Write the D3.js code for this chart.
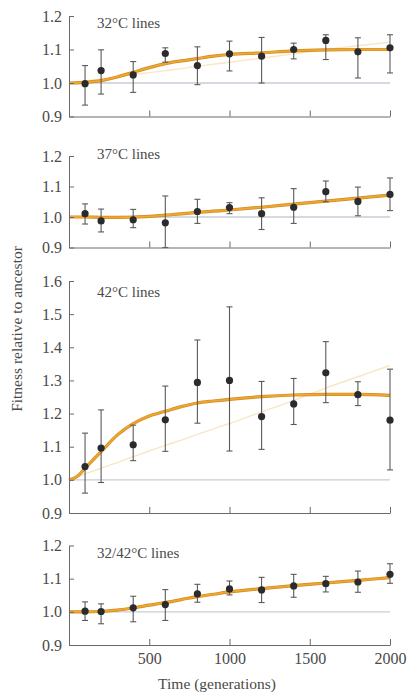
<!DOCTYPE html>
<html>
<head>
<meta charset="utf-8">
<script src="https://cdn.jsdelivr.net/npm/d3@7"></script>
<style>
  body { margin: 0; background: #fff; }
  svg text { font-family: "Liberation Serif", "DejaVu Serif", serif; fill: #4a4a4a; }
  .axis path, .axis line { stroke: #6a6a6a; stroke-width: 1; }
</style>
</head>
<body>
<div id="chart"></div>
<script>
// generations where fitness was measured
const gens = [100, 200, 400, 600, 800, 1000, 1200, 1400, 1600, 1800, 2000];

// 32°C lines
const mean32 = [0.998, 1.037, 1.024, 1.088, 1.052, 1.087, 1.080, 1.100, 1.127, 1.093, 1.105];
const lo32   = [0.934, 0.967, 0.972, 1.062, 0.995, 1.036, 1.000, 1.072, 1.070, 1.015, 1.030];
const hi32   = [1.052, 1.099, 1.064, 1.105, 1.108, 1.125, 1.136, 1.119, 1.144, 1.135, 1.144];

// 37°C lines
const mean37 = [1.011, 0.987, 0.991, 0.981, 1.018, 1.031, 1.011, 1.032, 1.083, 1.051, 1.074];
const lo37   = [0.977, 0.951, 0.965, 0.900, 0.979, 1.011, 0.959, 0.979, 1.050, 1.004, 1.021];
const hi37   = [1.043, 1.026, 1.025, 1.069, 1.058, 1.047, 1.063, 1.093, 1.118, 1.098, 1.128];

// 42°C lines
const mean42 = [1.040, 1.096, 1.106, 1.181, 1.294, 1.300, 1.191, 1.229, 1.323, 1.257, 1.180];
const lo42   = [0.960, 0.992, 1.058, 1.086, 1.171, 1.087, 1.092, 1.167, 1.233, 1.224, 1.030];
const hi42   = [1.141, 1.211, 1.165, 1.283, 1.422, 1.522, 1.297, 1.306, 1.417, 1.296, 1.334];

// 32/42°C lines
const meanAlt = [1.002, 1.001, 1.012, 1.022, 1.054, 1.069, 1.066, 1.078, 1.085, 1.090, 1.113];
const loAlt   = [0.974, 0.964, 0.970, 0.974, 1.029, 1.051, 1.028, 1.044, 1.060, 1.059, 1.086];
const hiAlt   = [1.030, 1.024, 1.047, 1.067, 1.083, 1.093, 1.104, 1.113, 1.107, 1.123, 1.145];

// fitted curves (hyperbolic = fit, faint = linear-ish alternative)
const fitGens = [0, 50, 100, 200, 300, 400, 500, 600, 700, 800, 900, 1000, 1200, 1400, 1600, 1800, 2000];
const fit32   = [1.0, 1.0005, 1.002, 1.007, 1.018, 1.032, 1.046, 1.058, 1.066, 1.073, 1.080, 1.085, 1.090, 1.096, 1.099, 1.100, 1.100];
const faint32 = [1.0, 1.003, 1.006, 1.012, 1.018, 1.025, 1.031, 1.037, 1.043, 1.050, 1.056, 1.062, 1.074, 1.087, 1.100, 1.111, 1.122];
const fit37   = [1.0, 1.0, 1.0, 0.999, 0.999, 1.0, 1.002, 1.006, 1.010, 1.015, 1.019, 1.023, 1.032, 1.042, 1.052, 1.062, 1.072];
const faint37 = [1.0, 1.0, 1.0, 1.0, 1.001, 1.003, 1.005, 1.008, 1.012, 1.016, 1.020, 1.025, 1.034, 1.044, 1.054, 1.064, 1.075];
const fit42   = [1.0, 1.010, 1.035, 1.085, 1.135, 1.170, 1.193, 1.207, 1.221, 1.232, 1.238, 1.243, 1.251, 1.256, 1.258, 1.258, 1.255];
const faint42 = [1.0, 1.008, 1.018, 1.035, 1.052, 1.070, 1.087, 1.104, 1.120, 1.137, 1.154, 1.170, 1.205, 1.240, 1.277, 1.311, 1.345];
const fitAlt  = [1.0, 1.0, 1.0, 1.001, 1.005, 1.012, 1.020, 1.028, 1.037, 1.046, 1.053, 1.060, 1.070, 1.079, 1.087, 1.095, 1.103];
const faintAlt= [1.0, 1.0, 1.0, 1.002, 1.006, 1.013, 1.021, 1.029, 1.038, 1.046, 1.053, 1.060, 1.071, 1.080, 1.088, 1.096, 1.105];

const titles = ['32°C lines', '37°C lines', '42°C lines', '32/42°C lines'];
const xTicks = [500, 1000, 1500, 2000];
const yTicksSmall = [0.9, 1.0, 1.1, 1.2];
const yTicksBig = [0.9, 1.0, 1.1, 1.2, 1.3, 1.4, 1.5, 1.6];

const panels = [
  {title: titles[0], mean: mean32, lo: lo32, hi: hi32, fit: fit32, faint: faint32, ymax: 1.2, ticks: yTicksSmall, top: 16, bottom: 116.5, ty: 28},
  {title: titles[1], mean: mean37, lo: lo37, hi: hi37, fit: fit37, faint: faint37, ymax: 1.2, ticks: yTicksSmall, top: 156, bottom: 247.5, ty: 159},
  {title: titles[2], mean: mean42, lo: lo42, hi: hi42, fit: fit42, faint: faint42, ymax: 1.6, ticks: yTicksBig, top: 281, bottom: 513, ty: 297},
  {title: titles[3], mean: meanAlt, lo: loAlt, hi: hiAlt, fit: fitAlt, faint: faintAlt, ymax: 1.2, ticks: yTicksSmall, top: 545.5, bottom: 645, ty: 558}
];

const width = 408, height = 694;
const left = 69, right = 390;

const svg = d3.select('#chart').append('svg')
  .attr('width', width)
  .attr('height', height);

const x = d3.scaleLinear().domain([0, 2000]).range([left, right]);

panels.forEach((p, i) => {
  const y = d3.scaleLinear().domain([0.9, p.ymax]).range([p.bottom, p.top]);
  const g = svg.append('g');
  const last = i === panels.length - 1;

  // reference line at fitness 1
  g.append('line')
    .attr('x1', x(0)).attr('x2', x(2000))
    .attr('y1', y(1)).attr('y2', y(1))
    .attr('stroke', '#c9ced6')
    .attr('stroke-width', 1.3);

  const line = d3.line()
    .x((d, j) => x(fitGens[j]))
    .y(d => y(d))
    .curve(d3.curveMonotoneX);

  g.append('path')
    .attr('d', line(p.faint))
    .attr('fill', 'none')
    .attr('stroke', '#f8e6c6')
    .attr('stroke-width', 1.4);

  g.append('path')
    .attr('d', line(p.fit))
    .attr('fill', 'none')
    .attr('stroke', '#cf8c1e')
    .attr('stroke-width', 3.2);
  g.append('path')
    .attr('d', line(p.fit))
    .attr('fill', 'none')
    .attr('stroke', '#f0a630')
    .attr('stroke-width', 1.8);

  // error bars
  const eb = g.append('g')
    .attr('stroke', '#5a5a5a')
    .attr('stroke-width', 1.1);
  gens.forEach((t, j) => {
    const cx = x(t);
    eb.append('line').attr('x1', cx).attr('x2', cx).attr('y1', y(p.lo[j])).attr('y2', y(p.hi[j]));
    eb.append('line').attr('x1', cx - 3).attr('x2', cx + 3).attr('y1', y(p.lo[j])).attr('y2', y(p.lo[j]));
    eb.append('line').attr('x1', cx - 3).attr('x2', cx + 3).attr('y1', y(p.hi[j])).attr('y2', y(p.hi[j]));
  });

  g.selectAll('circle')
    .data(p.mean)
    .enter().append('circle')
      .attr('cx', (d, j) => x(gens[j]))
      .attr('cy', d => y(d))
      .attr('r', 3.6)
      .attr('fill', '#2b2b2e');

  // axes, ticks pointing inward
  g.append('g')
    .attr('class', 'axis')
    .attr('transform', `translate(${left},0)`)
    .call(d3.axisLeft(y).tickValues(p.ticks).tickFormat(d3.format('.1f'))
      .tickSizeInner(-5).tickSizeOuter(0).tickPadding(7))
    .call(a => a.selectAll('text').style('font-size', '16px').attr('fill', '#4a4a4a'));

  g.append('g')
    .attr('class', 'axis')
    .attr('transform', `translate(0,${p.bottom})`)
    .call(d3.axisBottom(x).tickValues(xTicks).tickFormat(last ? d3.format('d') : '')
      .tickSizeInner(-6).tickSizeOuter(0).tickPadding(8))
    .call(a => a.selectAll('text').style('font-size', '16px').attr('fill', '#4a4a4a'));

  g.append('text')
    .attr('x', 97)
    .attr('y', p.ty)
    .style('font-size', '15px')
    .text(p.title);
});

svg.append('text')
  .attr('transform', 'translate(22,329) rotate(-90)')
  .attr('text-anchor', 'middle')
  .style('font-size', '15.5px')
  .text('Fitness relative to ancestor');

svg.append('text')
  .attr('x', 217)
  .attr('y', 689)
  .attr('text-anchor', 'middle')
  .style('font-size', '15.5px')
  .text('Time (generations)');
</script>
</body>
</html>
